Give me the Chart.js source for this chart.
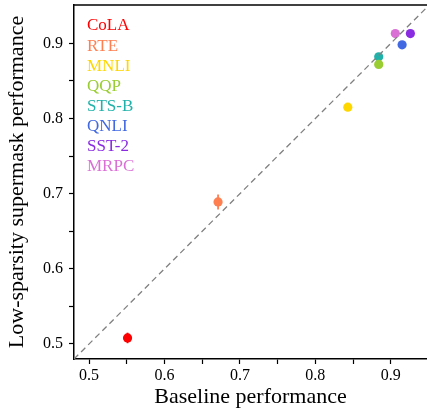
<!DOCTYPE html>
<html><head><meta charset="utf-8">
<script src="https://cdn.jsdelivr.net/npm/chart.js@4"></script>
<style>html,body{margin:0;padding:0;background:#fff;overflow:hidden}#wrap{width:427px;height:410px;position:relative}</style>
</head><body><div id="wrap"><canvas id="c" width="427" height="410"></canvas></div>
<script>
const tasks = ["CoLA","RTE","MNLI","QQP","STS-B","QNLI","SST-2","MRPC"];
const colors = ["#ff0000","#ff7f50","#ffd700","#9acd32","#20b2aa","#4169e1","#8a2be2","#da70d6"];
const baseline = [0.551,0.671,0.843,0.884,0.884,0.915,0.926,0.906];
const supermask = [0.508,0.689,0.815,0.872,0.882,0.898,0.913,0.913];
const supermaskErr = [0.007,0.010,0,0,0,0,0,0];
const tickValues = [0.5,0.55,0.6,0.65,0.7,0.75,0.8,0.85,0.9];
const labelTicks = [0.5,0.6,0.7,0.8,0.9];
const axisMin = 0.48, xMax = 0.948, yMax = 0.951;

const serif = "'Liberation Serif', 'DejaVu Serif', serif";

const datasets = tasks.map((t,i)=>({
  type:'scatter', label:t,
  data:[{x:baseline[i], y:supermask[i]}],
  backgroundColor:colors[i], borderWidth:0, pointRadius:4.6, pointHoverRadius:4.6
}));
datasets.unshift({
  type:'line', label:'diag', data:[{x:axisMin,y:axisMin},{x:1,y:1}],
  borderColor:'#808080', borderWidth:1.3, borderDash:[6,4], pointRadius:0, fill:false
});

const extras = {
  id:'extras',
  afterDatasetsDraw(chart){
    const ctx = chart.ctx, xs = chart.scales.x, ys = chart.scales.y, a = chart.chartArea;
    tasks.forEach((t,i)=>{
      if(!supermaskErr[i]) return;
      const px = xs.getPixelForValue(baseline[i]);
      ctx.save(); ctx.strokeStyle = colors[i]; ctx.lineWidth = 1.8;
      ctx.beginPath();
      ctx.moveTo(px, ys.getPixelForValue(supermask[i]-supermaskErr[i]));
      ctx.lineTo(px, ys.getPixelForValue(supermask[i]+supermaskErr[i]));
      ctx.stroke(); ctx.restore();
    });
    ctx.save(); ctx.strokeStyle='#000'; ctx.lineWidth=1.5;
    ctx.beginPath(); ctx.moveTo(a.left-0.75, a.top); ctx.lineTo(a.right, a.top); ctx.stroke();
    ctx.restore();
    ctx.save(); ctx.font = "17px " + serif; ctx.textBaseline='middle'; ctx.textAlign='left';
    tasks.forEach((t,i)=>{ ctx.fillStyle = colors[i]; ctx.fillText(t, a.left+13, a.top+21+i*20.1); });
    ctx.restore();
  }
};

new Chart(document.getElementById('c'), {
  data:{datasets},
  options:{
    responsive:false, animation:false,
    layout:{autoPadding:false, padding:{top:5,right:0,left:0,bottom:0}},
    plugins:{legend:{display:false}, tooltip:{enabled:false}},
    scales:{
      x:{type:'linear', min:axisMin, max:xMax,
        afterBuildTicks(s){ s.ticks = tickValues.map(v=>({value:v})); },
        afterFit(s){ s.height = 51; s.paddingLeft = 0; s.paddingRight = 0; },
        ticks:{color:'#000', font:{family:serif,size:16}, padding:2, maxRotation:0, autoSkip:false,
          callback:(v)=> labelTicks.some(l=>Math.abs(l-v)<1e-6) ? v.toFixed(1) : ''},
        grid:{drawOnChartArea:false, drawTicks:true, tickLength:5, tickColor:'#000', tickWidth:1.2},
        border:{color:'#000', width:1.5},
        title:{display:true, text:'Baseline performance', color:'#000', font:{family:serif,size:22}, padding:{top:0,bottom:0}}
      },
      y:{type:'linear', min:axisMin, max:yMax,
        afterBuildTicks(s){ s.ticks = tickValues.map(v=>({value:v})); },
        afterFit(s){ s.width = 74; s.paddingTop = 0; s.paddingBottom = 0; },
        ticks:{color:'#000', font:{family:serif,size:16}, padding:6, autoSkip:false,
          callback:(v)=> labelTicks.some(l=>Math.abs(l-v)<1e-6) ? v.toFixed(1) : ''},
        grid:{drawOnChartArea:false, drawTicks:true, tickLength:5, tickColor:'#000', tickWidth:1.2},
        border:{color:'#000', width:1.5},
        title:{display:true, text:'Low-sparsity supermask performance', color:'#000', font:{family:serif,size:22}, padding:{top:4,bottom:0}}
      }
    }
  },
  plugins:[extras]
});
</script></body></html>
